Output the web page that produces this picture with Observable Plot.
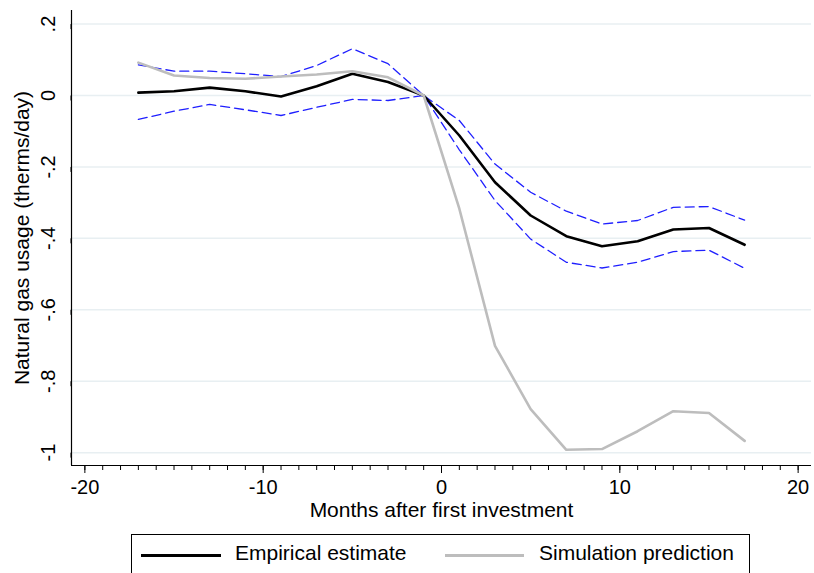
<!DOCTYPE html>
<html>
<head>
<meta charset="utf-8">
<script src="https://cdn.jsdelivr.net/npm/d3@7"></script>
<script src="https://cdn.jsdelivr.net/npm/@observablehq/plot@0.6"></script>
<style>
  html, body { margin: 0; padding: 0; background: #fff; }
  body { width: 814px; height: 573px; position: relative; overflow: hidden; font-family: "Liberation Sans", Arial, sans-serif; }
  #chart { position: absolute; left: 0; top: 0; }
  .legend { position: absolute; left: 131px; top: 534px; width: 617px; height: 38px; border: 1px solid #000; box-sizing: content-box; }
  .legend .key { position: absolute; top: 19px; height: 3px; }
  .legend .lab { position: absolute; top: 6px; font-size: 21px; line-height: 24px; color: #000; white-space: nowrap; }
</style>
</head>
<body>
<div id="chart"></div>
<div class="legend">
  <div class="key" style="left:9px;width:80px;background:#000;"></div>
  <div class="lab" style="left:103px;">Empirical estimate</div>
  <div class="key" style="left:313px;width:79px;background:#bdbdbd;"></div>
  <div class="lab" style="left:407px;">Simulation prediction</div>
</div>
<script>
// Months relative to the first investment (odd months only)
const months = [-17, -15, -13, -11, -9, -7, -5, -3, -1, 1, 3, 5, 7, 9, 11, 13, 15, 17];

// Event-study estimate of natural gas usage (therms/day)
const empirical = [0.008, 0.012, 0.022, 0.012, -0.003, 0.026, 0.061, 0.038, 0,
  -0.112, -0.243, -0.336, -0.394, -0.422, -0.408, -0.375, -0.371, -0.418];

// 95% confidence band
const upper = [0.086, 0.068, 0.068, 0.061, 0.053, 0.084, 0.131, 0.089, 0,
  -0.070, -0.192, -0.271, -0.324, -0.360, -0.350, -0.313, -0.311, -0.349];
const lower = [-0.067, -0.044, -0.025, -0.040, -0.056, -0.033, -0.011, -0.014, 0,
  -0.152, -0.294, -0.402, -0.467, -0.483, -0.467, -0.437, -0.433, -0.484];

// Engineering simulation prediction
const simulation = [0.092, 0.056, 0.049, 0.047, 0.053, 0.059, 0.068, 0.051, 0,
  -0.317, -0.701, -0.878, -0.992, -0.990, -0.940, -0.884, -0.889, -0.967];

const xTicks = [-20, -10, 0, 10, 20];
const yTicks = [-1, -0.8, -0.6, -0.4, -0.2, 0, 0.2];
const xDomain = [-20.75, 20.75];
const yDomain = [-1.036, 0.238];

const xTitle = "Months after first investment";
const yTitle = "Natural gas usage (therms/day)";

const rows = months.map((m, i) => ({
  month: m, empirical: empirical[i], upper: upper[i], lower: lower[i], simulation: simulation[i]
}));

const fmtY = d => d === 0 ? "0" : String(d).replace("0.", ".");

const chart = Plot.plot({
  width: 814,
  height: 528,
  marginLeft: 71,
  marginRight: 3,
  marginTop: 10,
  marginBottom: 63,
  style: { fontFamily: "'Liberation Sans', Arial, sans-serif", background: "#fff", color: "#000" },
  x: { domain: xDomain, label: null },
  y: { domain: yDomain, label: null },
  marks: [
    Plot.gridY(yTicks, { stroke: "#e8eff2", strokeOpacity: 1, strokeWidth: 1.5 }),
    // minor ticks every month
    Plot.axisX(d3.range(-20, 21), { tickSize: 5, text: null, stroke: "#000", strokeWidth: 1, label: null }),
    Plot.axisX(xTicks, {
      tickSize: 8, tickPadding: 6, stroke: "#000", strokeWidth: 1,
      tickFormat: d => String(d), fontSize: 20, label: null
    }),
    Plot.axisY(yTicks, {
      tickSize: 5, tickPadding: 12, stroke: "#000", strokeWidth: 1,
      tickFormat: fmtY, fontSize: 20, rotate: -90, textAnchor: "middle", lineAnchor: "bottom", label: null
    }),
    Plot.ruleX([xDomain[0]], { stroke: "#000", strokeWidth: 1.2 }),
    Plot.ruleY([yDomain[0]], { stroke: "#000", strokeWidth: 1.2 }),
    Plot.text([xTitle], { frameAnchor: "bottom", dy: 51, fontSize: 21, textAnchor: "middle", lineAnchor: "bottom", text: d => d }),
    Plot.text([yTitle], { frameAnchor: "left", dx: -43, rotate: -90, fontSize: 21, textAnchor: "middle", lineAnchor: "bottom", text: d => d }),
    Plot.line(rows, { x: "month", y: "upper", stroke: "#1f1fff", strokeWidth: 1.3, strokeDasharray: "9,5" }),
    Plot.line(rows, { x: "month", y: "lower", stroke: "#1f1fff", strokeWidth: 1.3, strokeDasharray: "9,5" }),
    Plot.line(rows, { x: "month", y: "empirical", stroke: "#000", strokeWidth: 2.6 }),
    Plot.line(rows, { x: "month", y: "simulation", stroke: "#bdbdbd", strokeWidth: 2.6 })
  ]
});

document.getElementById("chart").append(chart);
</script>
</body>
</html>
